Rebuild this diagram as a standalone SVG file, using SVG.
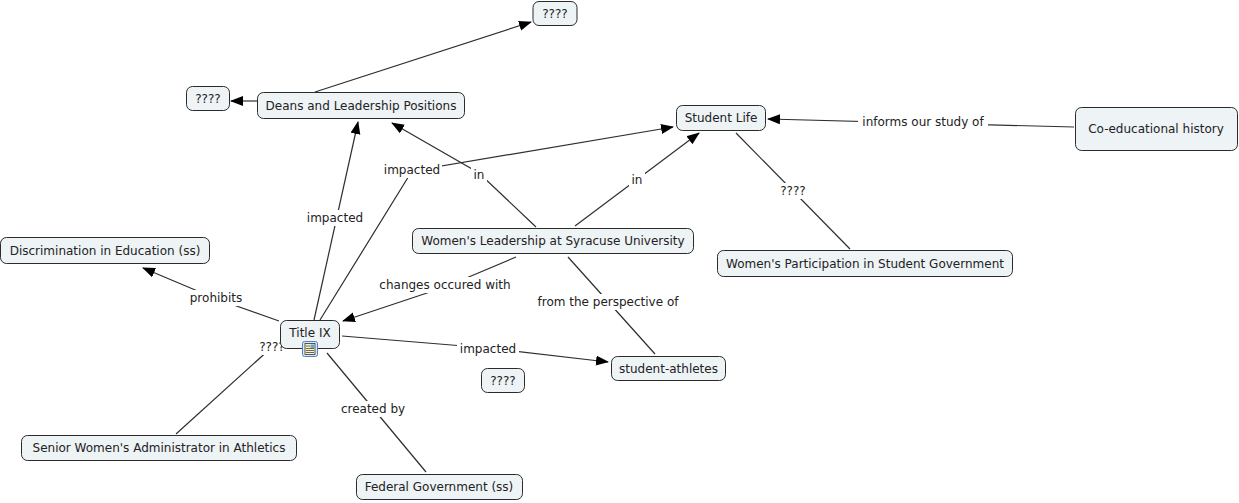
<svg xmlns="http://www.w3.org/2000/svg" width="1239" height="503" viewBox="0 0 1239 503">
<style>
  .node rect.box { fill: #eef3f6; stroke: #2b2b2b; stroke-width: 1; }
  text { font-family: "DejaVu Sans", Verdana, sans-serif; font-size: 12px; fill: #222; }
  .node text { text-anchor: middle; }
  .lbl text { text-anchor: middle; }
  .lbl rect { fill: #ffffff; stroke: none; }
  #connectors path { fill: none; stroke: #2e2e2e; stroke-width: 1.2; }
  .arr { marker-end: url(#ah); }
</style>
<defs>
  <marker id="ah" markerUnits="userSpaceOnUse" markerWidth="14" markerHeight="11" refX="12" refY="5" orient="auto">
    <path d="M0,0 L13,5 L0,10 Z" fill="#000"/>
  </marker>
</defs>
<rect width="1239" height="503" fill="#ffffff"/>

<g id="connectors">
  <path class="arr" d="M315,92 L531,22"/>
  <path class="arr" d="M257,101 L231,101"/>
  <path class="arr" d="M314,320 L358,122"/>
  <path class="arr" d="M320,320 L412,171 L673,127"/>
  <path class="arr" d="M536,227 L479,173 L392,123"/>
  <path class="arr" d="M575,226 L699,133"/>
  <path class="arr" d="M516,257 L445,287 L343,321"/>
  <path d="M568,257 L655,354"/>
  <path class="arr" d="M342,336 L488,348 L608,362"/>
  <path d="M327,353 L426,472"/>
  <path class="arr" d="M279,321 L216,298.7 L143,268"/>
  <path d="M176,434 L282,338"/>
  <path d="M850,249 L736,133"/>
  <path class="arr" d="M1074,127 L768,119"/>

  <g class="lbl"><rect x="305" y="210" width="60" height="16"/><text x="335" y="222">impacted</text></g>
  <g class="lbl"><rect x="382" y="162" width="60" height="16"/><text x="412" y="174">impacted</text></g>
  <g class="lbl"><rect x="471" y="167" width="16" height="16"/><text x="479" y="179">in</text></g>
  <g class="lbl"><rect x="629" y="172" width="16" height="16"/><text x="637" y="184">in</text></g>
  <g class="lbl"><rect x="378" y="277" width="134" height="16"/><text x="445" y="289">changes occured with</text></g>
  <g class="lbl"><rect x="536" y="294" width="144" height="16"/><text x="608" y="306">from the perspective of</text></g>
  <g class="lbl"><rect x="457" y="341" width="62" height="16"/><text x="488" y="353">impacted</text></g>
  <g class="lbl"><rect x="339" y="401" width="68" height="16"/><text x="373" y="413">created by</text></g>
  <g class="lbl"><rect x="187" y="290" width="58" height="16"/><text x="216" y="302">prohibits</text></g>
  <g class="lbl"><rect x="256" y="339" width="32" height="16"/><text x="272" y="351">????</text></g>
  <g class="lbl"><rect x="777" y="183" width="32" height="16"/><text x="793" y="195">????</text></g>
  <g class="lbl"><rect x="858" y="114" width="130" height="16"/><text x="923" y="126">informs our study of</text></g>
</g>

<g id="n-q-top" class="node"><rect class="box" x="533" y="1.5" width="44" height="24" rx="6"/><text x="555" y="17.5">????</text></g>
<g id="n-q-left" class="node"><rect class="box" x="186.5" y="86.5" width="43" height="24" rx="6"/><text x="208" y="102.5">????</text></g>
<g id="n-deans" class="node"><rect class="box" x="257.5" y="92.5" width="207" height="26" rx="6"/><text x="361" y="109.5">Deans and Leadership Positions</text></g>
<g id="n-student-life" class="node"><rect class="box" x="676.5" y="105.5" width="89" height="25" rx="6"/><text x="721" y="122">Student Life</text></g>
<g id="n-coed" class="node"><rect class="box" x="1075.5" y="107.5" width="162" height="43" rx="6"/><text x="1156" y="133">Co-educational history</text></g>
<g id="n-wl" class="node"><rect class="box" x="412.5" y="228.5" width="281" height="25" rx="6"/><text x="553" y="245">Women's Leadership at Syracuse University</text></g>
<g id="n-wp" class="node"><rect class="box" x="717.5" y="250.5" width="295" height="26" rx="6"/><text x="865" y="267.5">Women's Participation in Student Government</text></g>
<g id="n-disc" class="node"><rect class="box" x="0.5" y="237.5" width="209" height="26" rx="6"/><text x="105" y="254.5">Discrimination in Education (ss)</text></g>
<g id="n-title9" class="node">
  <rect class="box" x="280.5" y="320.5" width="59" height="28" rx="6"/>
  <text x="310" y="337">Title IX</text>
  <g id="title9-icon">
    <rect x="302.5" y="341.5" width="15" height="15" rx="2" fill="#dbe7f6" stroke="#4d82c6" stroke-width="1"/>
    <rect x="305" y="343.5" width="10" height="11" fill="#fbf3c4" stroke="#333" stroke-width="0.8"/>
    <rect x="310.5" y="344.5" width="4" height="3.5" fill="#6aa0d8"/>
    <path d="M306,346 h4 M306,348.5 h8 M306,350.5 h8 M306,352.5 h8" stroke="#444" stroke-width="0.8"/>
  </g>
</g>
<g id="n-athletes" class="node"><rect class="box" x="611.5" y="356.5" width="114" height="24" rx="6"/><text x="668.5" y="372.5">student-athletes</text></g>
<g id="n-q-mid" class="node"><rect class="box" x="481.5" y="368.5" width="43" height="24" rx="6"/><text x="503" y="384.5">????</text></g>
<g id="n-senior" class="node"><rect class="box" x="21.5" y="435.5" width="275" height="25" rx="6"/><text x="159" y="452">Senior Women's Administrator in Athletics</text></g>
<g id="n-federal" class="node"><rect class="box" x="356.5" y="474.5" width="166" height="25" rx="6"/><text x="439" y="491">Federal Government (ss)</text></g>
</svg>
